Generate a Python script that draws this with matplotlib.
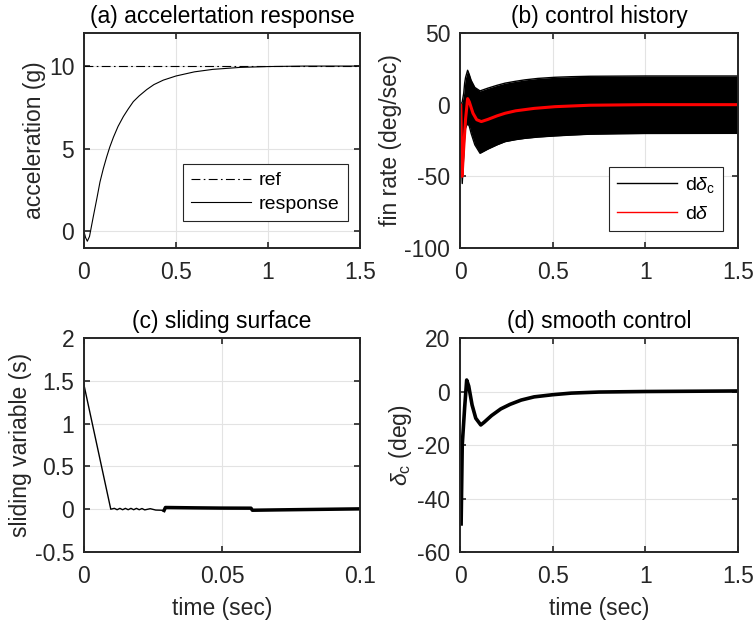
import matplotlib
matplotlib.use("Agg")
import matplotlib.pyplot as plt
from matplotlib.lines import Line2D
from matplotlib.ticker import FuncFormatter

plt.rcParams["font.family"] = ["Liberation Sans", "DejaVu Sans"]
plt.rcParams["mathtext.fontset"] = "custom"
plt.rcParams["mathtext.rm"] = "Liberation Sans"
plt.rcParams["mathtext.it"] = "Liberation Sans:italic"
plt.rcParams["axes.unicode_minus"] = False

TXT = "#262626"
FS = 16.5

# (a) acceleration response
t_acc = [0, 0.008, 0.018, 0.03, 0.05, 0.07, 0.087, 0.105, 0.123, 0.14, 0.16, 0.185,
         0.214, 0.24, 0.268, 0.3, 0.341, 0.38, 0.431, 0.5, 0.6, 0.7, 0.85, 1.0, 1.2, 1.5]
acc = [0, -0.35, -0.59, -0.3, 0.87, 2.0, 3.0, 3.8, 4.5, 5.1, 5.7, 6.35,
       6.95, 7.4, 7.85, 8.2, 8.58, 8.88, 9.15, 9.4, 9.65, 9.8, 9.92, 9.97, 10.0, 10.0]
t_ref = [0, 1.5]
acc_ref = [10, 10]

# (b) fin rate: chattering band of d(delta_c) and the actual d(delta)
t_band = [0, 0.005, 0.012, 0.02, 0.025, 0.03, 0.041, 0.05, 0.06, 0.08, 0.108, 0.15,
          0.2, 0.243, 0.3, 0.35, 0.42, 0.513, 0.6, 0.7, 0.85, 1.0, 1.5]
band_hi = [0, 0, 2, 8, 15, 19, 24, 21, 17, 12, 9.6, 11.5,
           13.5, 15, 16.3, 17.3, 18.3, 19.1, 19.5, 19.8, 19.9, 20, 20]
band_lo = [0, -30, -55, -35, -22, -16, -13, -15, -20, -28, -33.9, -31,
           -28, -25.8, -24.4, -23.5, -22.6, -21.8, -21.2, -20.6, -20.3, -20.1, -20]
t_rate = [0, 0.004, 0.011, 0.02, 0.03, 0.041, 0.05, 0.07, 0.09, 0.115, 0.15, 0.2,
          0.243, 0.3, 0.4, 0.513, 0.7, 1.0, 1.5]
rate = [0, 0, -50, -30, -10, 4.2, 2, -6, -10.5, -11.8, -10.3, -7.8,
        -6, -4.3, -2.6, -1.4, -0.4, 0, 0]

# (c) sliding variable
t_reach = [0, 0.0097, 0.011, 0.012, 0.013, 0.014, 0.015, 0.016, 0.017, 0.018, 0.019,
           0.02, 0.021, 0.022, 0.024, 0.026, 0.028, 0.029]
s_reach = [1.45, 0, 0.01, -0.006, 0.01, -0.006, 0.01, -0.006, 0.01, -0.006, 0.01,
           -0.006, 0.008, -0.008, 0.006, -0.01, -0.012, -0.015]
t_slide = [0.029, 0.0295, 0.04, 0.05, 0.0605, 0.061, 0.07, 0.08, 0.09, 0.1]
s_slide = [-0.015, 0.02, 0.016, 0.013, 0.012, -0.012, -0.008, -0.004, 0.0, 0.004]

# (d) smooth control
t_dc = [0.006, 0.012, 0.025, 0.036, 0.047, 0.065, 0.085, 0.112, 0.13, 0.17, 0.22,
        0.27, 0.33, 0.4, 0.5, 0.6, 0.75, 1.0, 1.5]
delta_c = [-49.5, -20, -6, 4.3, 2, -5, -10, -12.5, -11.5, -9, -6.5,
           -4.8, -3.2, -2, -1.2, -0.6, -0.2, 0, 0.2]

fig = plt.figure(figsize=(7.54, 6.21), dpi=100)
pos = {
    "a": [0.1114, 0.6006, 0.3661, 0.3463],
    "b": [0.6101, 0.6006, 0.3687, 0.3463],
    "c": [0.1114, 0.1111, 0.3661, 0.3446],
    "d": [0.6101, 0.1111, 0.3687, 0.3446],
}
axs = {k: fig.add_axes(v) for k, v in pos.items()}


def matlab_style(ax, xlim, ylim, xticks, yticks):
    ax.set_xlim(*xlim)
    ax.set_ylim(*ylim)
    ax.set_xticks(xticks)
    ax.set_yticks(yticks)
    fmt = FuncFormatter(lambda v, p: f"{v:g}")
    ax.xaxis.set_major_formatter(fmt)
    ax.yaxis.set_major_formatter(fmt)
    ax.grid(True, color="#e3e3e3", lw=0.8)
    ax.set_axisbelow(True)
    ax.tick_params(direction="in", length=4, width=1.2, top=True, right=True,
                   labelsize=FS, colors=TXT)
    ax.tick_params(axis="x", pad=9)
    ax.tick_params(axis="y", pad=7)
    for sp in ax.spines.values():
        sp.set_color(TXT)
        sp.set_linewidth(1.4)


def legend_box(ax, *args, **kw):
    leg = ax.legend(*args, loc="lower right", borderaxespad=0, fontsize=14,
                    handlelength=3.1, handletextpad=0.4, fancybox=False,
                    framealpha=1, edgecolor=TXT, borderpad=0.4, **kw)
    leg.get_frame().set_linewidth(0.8)
    return leg


ax = axs["a"]
ax.plot(t_ref, acc_ref, color="k", lw=0.8, ls=(0, (8, 3, 1.5, 3)), label="ref")
ax.plot(t_acc, acc, color="k", lw=0.8, label="response")
matlab_style(ax, (0, 1.5), (-1, 12), [0, 0.5, 1, 1.5], [0, 5, 10])
ax.set_title("(a) accelertation response", fontsize=FS, color="k", pad=7)
ax.set_ylabel("acceleration (g)", fontsize=FS, color=TXT, labelpad=2)
legend_box(ax, bbox_to_anchor=(0.955, 0.127), labelspacing=0.3)

ax = axs["b"]
ax.fill_between(t_band, band_lo, band_hi, color="k", lw=0)
ax.plot(t_band, band_hi, color="k", lw=1)
ax.plot(t_band, band_lo, color="k", lw=1)
ax.plot(t_rate, rate, color="red", lw=2.2)
matlab_style(ax, (0, 1.5), (-100, 50), [0, 0.5, 1, 1.5], [-100, -50, 0, 50])
ax.set_title("(b) control history", fontsize=FS, color="k", pad=7)
ax.set_ylabel("fin rate (deg/sec)", fontsize=FS, color=TXT, labelpad=2)
handles = [Line2D([0], [0], color="k", lw=1), Line2D([0], [0], color="red", lw=1)]
legend_box(ax, handles, [r"d$\delta_{\rm c}$", r"d$\delta$"],
           bbox_to_anchor=(0.946, 0.079), labelspacing=0.55)

ax = axs["c"]
ax.plot(t_reach, s_reach, color="k", lw=1)
ax.plot(t_slide, s_slide, color="k", lw=2.5)
matlab_style(ax, (0, 0.1), (-0.5, 2), [0, 0.05, 0.1], [-0.5, 0, 0.5, 1, 1.5, 2])
ax.set_title("(c) sliding surface", fontsize=FS, color="k", pad=7)
ax.set_ylabel("sliding variable (s)", fontsize=FS, color=TXT, labelpad=2)
ax.set_xlabel("time (sec)", fontsize=FS, color=TXT, labelpad=7)

ax = axs["d"]
ax.plot(t_dc, delta_c, color="k", lw=2.6)
matlab_style(ax, (0, 1.5), (-60, 20), [0, 0.5, 1, 1.5], [-60, -40, -20, 0, 20])
ax.set_title("(d) smooth control", fontsize=FS, color="k", pad=7)
ax.set_ylabel(r"$\delta_{\rm c}$ (deg)", fontsize=FS, color=TXT, labelpad=2)
ax.set_xlabel("time (sec)", fontsize=FS, color=TXT, labelpad=7)

fig.savefig("out.png", dpi=100)
